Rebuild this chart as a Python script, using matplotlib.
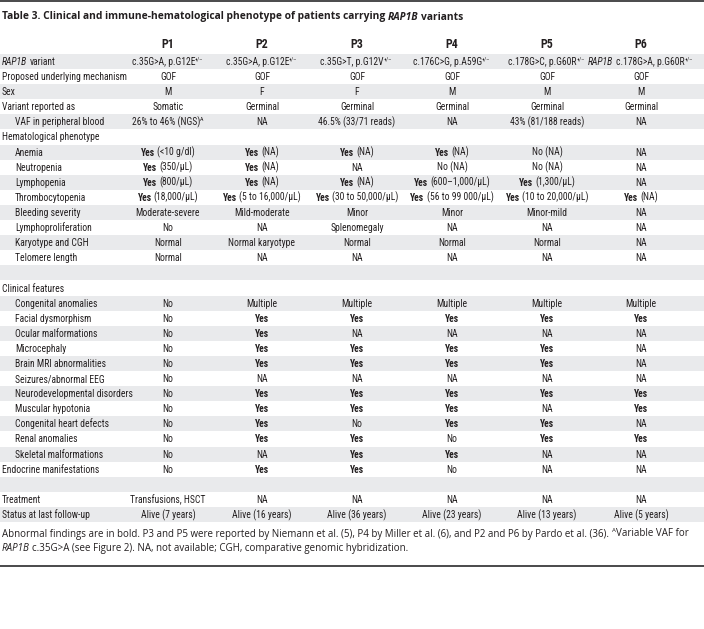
import re
import matplotlib
matplotlib.use('Agg')
import matplotlib.pyplot as plt
from matplotlib import font_manager
from matplotlib.patches import Rectangle

W, H = 704, 629

# table content (markup: **bold**, _italic_, ^superscript^)
patients = ['P1', 'P2', 'P3', 'P4', 'P5', 'P6']

row_labels = ['_RAP1B_ variant', 'Proposed underlying mechanism', 'Sex', 'Variant reported as',
              'VAF in peripheral blood', 'Hematological phenotype', 'Anemia', 'Neutropenia',
              'Lymphopenia', 'Thrombocytopenia', 'Bleeding severity', 'Lymphoproliferation',
              'Karyotype and CGH', 'Telomere length', '', 'Clinical features',
              'Congenital anomalies', 'Facial dysmorphism', 'Ocular malformations', 'Microcephaly',
              'Brain MRI abnormalities', 'Seizures/abnormal EEG', 'Neurodevelopmental disorders',
              'Muscular hypotonia', 'Congenital heart defects', 'Renal anomalies',
              'Skeletal malformations', 'Endocrine manifestations', '', 'Treatment',
              'Status at last follow-up']
indented = [4, 6, 7, 8, 9, 10, 11, 12, 13, 16, 17, 18, 19, 20, 21, 22, 23, 24, 25, 26]

Y = '**Yes**'
p1 = ['c.35G>A, p.G12E^+/–^', 'GOF', 'M', 'Somatic', '26% to 46% (NGS)^A^', '',
      '**Yes** (<10 g/dl)', '**Yes** (350/μL)', '**Yes** (800/μL)', '**Yes** (18,000/μL)',
      'Moderate-severe', 'No', 'Normal', 'Normal', '', '',
      'No', 'No', 'No', 'No', 'No', 'No', 'No', 'No', 'No', 'No', 'No', 'No', '',
      'Transfusions, HSCT', 'Alive (7 years)']
p2 = ['c.35G>A, p.G12E^+/–^', 'GOF', 'F', 'Germinal', 'NA', '',
      '**Yes** (NA)', '**Yes** (NA)', '**Yes** (NA)', '**Yes** (5 to 16,000/μL)',
      'Mild-moderate', 'NA', 'Normal karyotype', 'NA', '', '',
      'Multiple', Y, Y, Y, Y, 'NA', Y, Y, Y, Y, 'NA', Y, '',
      'NA', 'Alive (16 years)']
p3 = ['c.35G>T, p.G12V^+/–^', 'GOF', 'F', 'Germinal', '46.5% (33/71 reads)', '',
      '**Yes** (NA)', 'NA', '**Yes** (NA)', '**Yes** (30 to 50,000/μL)',
      'Minor', 'Splenomegaly', 'Normal', 'NA', '', '',
      'Multiple', Y, 'NA', Y, Y, 'NA', Y, Y, 'No', Y, Y, Y, '',
      'NA', 'Alive (36 years)']
p4 = ['c.176C>G, p.A59G^+/–^', 'GOF', 'M', 'Germinal', 'NA', '',
      '**Yes** (NA)', 'No (NA)', '**Yes** (600–1,000/μL)', '**Yes** (56 to 99 000/μL)',
      'Minor', 'NA', 'Normal', 'NA', '', '',
      'Multiple', Y, 'NA', Y, Y, 'NA', Y, Y, Y, 'No', Y, 'No', '',
      'NA', 'Alive (23 years)']
p5 = ['c.178G>C, p.G60R^+/–^', 'GOF', 'M', 'Germinal', '43% (81/188 reads)', '',
      'No (NA)', 'No (NA)', '**Yes** (1,300/μL)', '**Yes** (10 to 20,000/μL)',
      'Minor-mild', 'NA', 'Normal', 'NA', '', '',
      'Multiple', Y, 'NA', Y, Y, 'NA', Y, 'NA', Y, Y, 'NA', 'NA', '',
      'NA', 'Alive (13 years)']
p6 = ['_RAP1B_ c.178G>A, p.G60R^+/–^', 'GOF', 'M', 'Germinal', 'NA', '',
      'NA', 'NA', 'NA', '**Yes** (NA)',
      'NA', 'NA', 'NA', 'NA', '', '',
      'Multiple', Y, 'NA', 'NA', 'NA', 'NA', Y, Y, 'NA', Y, 'NA', 'NA', '',
      'NA', 'Alive (5 years)']
columns = [p1, p2, p3, p4, p5, p6]

title = '**Table 3. Clinical and immune-hematological phenotype of patients carrying _RAP1B_ variants**'
footnote = ['Abnormal findings are in bold. P3 and P5 were reported by Niemann et al. (5), P4 by '
            'Miller et al. (6), and P2 and P6 by Pardo et al. (36). ^A^Variable VAF for',
            '_RAP1B_ c.35G>A (see Figure 2). NA, not available; CGH, comparative genomic hybridization.']

# layout (pixels)
col_x = [168, 262, 357, 452, 547, 641]
row_y0, row_h = 61.5, 15.1
TXT = '#231f20'
SHADE = '#e9eaec'

installed = {f.name for f in font_manager.fontManager.ttflist}


def pick(names):
    for n in names:
        if n in installed:
            return [n, 'DejaVu Sans']
    return ['DejaVu Sans']


COND = pick(['Liberation Sans Narrow', 'Roboto Condensed', 'Open Sans Condensed',
             'Noto Sans Condensed', 'DejaVu Sans Condensed', 'Roboto', 'Liberation Sans'])
WIDE = pick(['Open Sans', 'Noto Sans', 'Lato', 'Roboto'])

fig = plt.figure(figsize=(W / 100, H / 100), dpi=100)
renderer = fig.canvas.get_renderer()


def px(x, y):
    return x / W, 1 - y / H


def parse(markup):
    out = []
    for part in re.split(r'(\*\*.+?\*\*|\^.+?\^|_.+?_)', markup):
        if not part:
            continue
        if part.startswith('**'):
            for sub in parse(part[2:-2]):
                out.append((sub[0], sub[1] | {'b'}))
        elif part.startswith('^'):
            out.append((part[1:-1], {'sup'}))
        elif part.startswith('_'):
            out.append((part[1:-1], {'i'}))
        else:
            out.append((part, set()))
    return out


def text_width(s, **kw):
    t = fig.text(0, 0, s, **kw)
    w = t.get_window_extent(renderer).width
    t.remove()
    return w


def draw_rich(x, y, markup, size, family, ha='center', draw=True):
    items = []
    space = (text_width('a a', fontsize=size, family=family)
             - text_width('aa', fontsize=size, family=family))
    for s, kind in parse(markup):
        lead = len(s) - len(s.lstrip(' '))
        trail = len(s) - len(s.rstrip(' '))
        core = s.strip(' ')
        sz = size * 0.62 if 'sup' in kind else size
        t = fig.text(0, 0, core, fontsize=sz, family=family, color=TXT,
                     fontweight='bold' if 'b' in kind else 'normal',
                     fontstyle='italic' if 'i' in kind else 'normal',
                     va='baseline', ha='left')
        w = t.get_window_extent(renderer).width if core else 0
        if 'sup' in kind:
            w += 1
        items.append((t, lead, trail, w, kind))
    total = sum(l * space + w + r * space for _, l, r, w, _ in items)
    if not draw:
        for t, *_ in items:
            t.remove()
        return total
    cur = x - total / 2 if ha == 'center' else x
    for t, l, r, w, kind in items:
        cur += l * space
        dy = -size * 1.389 * 0.42 if 'sup' in kind else 0
        t.set_position(px(cur, y + dy))
        cur += w + r * space
    return total


def fit_size(markup, family, target, ref=8.0):
    return ref * target / draw_rich(0, 0, markup, ref, family, draw=False)


cell_size = 6.9
title_size = fit_size(title, WIDE, 462)
foot_size = fit_size(footnote[0], WIDE, 694)

# top and bottom rules
fig.add_artist(Rectangle(px(0, 2), 1, 2 / H, transform=fig.transFigure, color='#4d4d4f', lw=0))
fig.add_artist(Rectangle(px(0, 567), 1, 2 / H, transform=fig.transFigure, color='#4d4d4f', lw=0))

draw_rich(2, 19.5, title, title_size, WIDE, ha='left')

for x, p in zip(col_x, patients):
    draw_rich(x, 47.5, '**' + p + '**', 8.6, COND)

for i, label in enumerate(row_labels):
    yc = row_y0 + i * row_h
    if i % 2 == 0:
        fig.add_artist(Rectangle(px(0, yc + row_h / 2), 1, row_h / H,
                                 transform=fig.transFigure, color=SHADE, lw=0, zorder=-1))
    base = yc + 3.5
    if label:
        draw_rich(15 if i in indented else 2, base, label, cell_size, COND, ha='left')
    for x, col in zip(col_x, columns):
        if col[i]:
            draw_rich(x, base, col[i], cell_size, COND)

for k, line in enumerate(footnote):
    draw_rich(2, 536.5 + k * 14.5, line, foot_size, WIDE, ha='left')

fig.savefig('out.png', dpi=100)
